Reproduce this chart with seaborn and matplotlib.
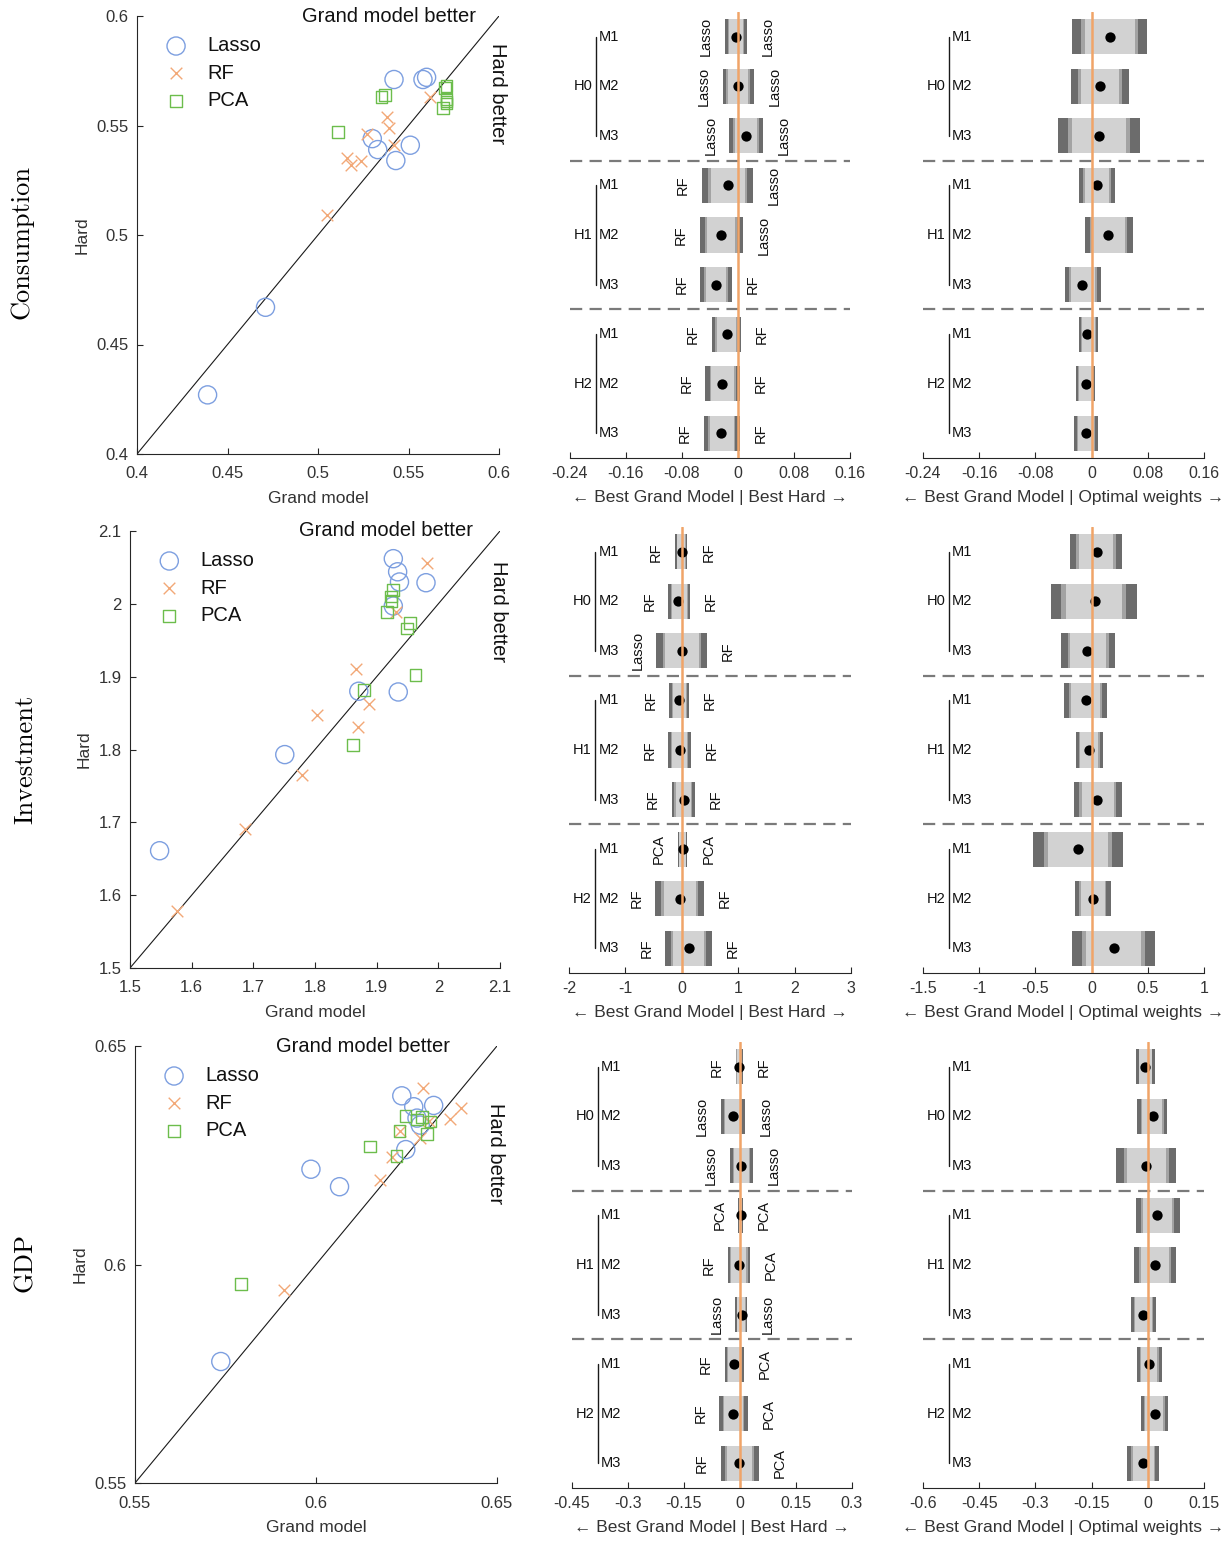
import numpy as np
import pandas as pd
import matplotlib
matplotlib.use("Agg")
import matplotlib.pyplot as plt
from matplotlib.ticker import FormatStrFormatter
import seaborn as sns

# ---------------- data ----------------
row_titles = ["Consumption", "Investment", "GDP"]
methods = ["Lasso", "RF", "PCA"]
horizons = ["H0", "H1", "H2"]
models = ["M1", "M2", "M3"]

# scatter: Grand model (x) vs Hard (y)
cons_lasso_x = [0.439, 0.471, 0.530, 0.533, 0.543, 0.551, 0.542, 0.558, 0.560]
cons_lasso_y = [0.427, 0.467, 0.544, 0.539, 0.534, 0.541, 0.571, 0.571, 0.572]
cons_rf_x = [0.505, 0.516, 0.518, 0.524, 0.527, 0.538, 0.539, 0.542, 0.562]
cons_rf_y = [0.509, 0.535, 0.532, 0.534, 0.546, 0.554, 0.549, 0.541, 0.563]
cons_pca_x = [0.511, 0.535, 0.537, 0.571, 0.570, 0.571, 0.571, 0.569, 0.571]
cons_pca_y = [0.547, 0.563, 0.564, 0.568, 0.567, 0.561, 0.560, 0.558, 0.562]

inv_lasso_x = [1.548, 1.751, 1.871, 1.935, 1.927, 1.934, 1.937, 1.980, 1.927]
inv_lasso_y = [1.661, 1.793, 1.880, 1.879, 2.062, 2.044, 2.030, 2.029, 1.997]
inv_rf_x = [1.576, 1.687, 1.779, 1.804, 1.866, 1.870, 1.888, 1.931, 1.982]
inv_rf_y = [1.578, 1.691, 1.765, 1.847, 1.911, 1.831, 1.863, 1.989, 2.056]
inv_pca_x = [1.862, 1.879, 1.963, 1.917, 1.923, 1.924, 1.926, 1.949, 1.954]
inv_pca_y = [1.806, 1.882, 1.902, 1.989, 2.010, 2.004, 2.019, 1.966, 1.974]

gdp_lasso_x = [0.5737, 0.5986, 0.6065, 0.6237, 0.6270, 0.6325, 0.6248, 0.6279, 0.6288]
gdp_lasso_y = [0.5778, 0.6218, 0.6178, 0.6386, 0.6361, 0.6364, 0.6263, 0.6335, 0.6319]
gdp_rf_x = [0.5912, 0.6177, 0.6210, 0.6231, 0.6295, 0.6288, 0.6311, 0.6371, 0.6401]
gdp_rf_y = [0.5942, 0.6194, 0.6247, 0.6306, 0.6405, 0.6289, 0.6329, 0.6332, 0.6359]
gdp_pca_x = [0.5792, 0.6150, 0.6222, 0.6231, 0.6247, 0.6279, 0.6293, 0.6316, 0.6306]
gdp_pca_y = [0.5956, 0.6270, 0.6248, 0.6306, 0.6340, 0.6332, 0.6337, 0.6327, 0.6299]

# interval panels, rows H0M1..H2M3 : lower, upper, point estimate
cons_best_lo = [-0.0185, -0.0218, -0.0123, -0.0517, -0.0550, -0.0536, -0.0375, -0.0465, -0.0489]
cons_best_hi = [0.0128, 0.0223, 0.0351, 0.0218, 0.0066, -0.0090, 0.0047, 0.0033, 0.0024]
cons_best_pt = [-0.0028, 0.0005, 0.0114, -0.0147, -0.0242, -0.0313, -0.0161, -0.0228, -0.0242]
cons_best_left = ["Lasso", "Lasso", "Lasso", "RF", "RF", "RF", "RF", "RF", "RF"]
cons_best_right = ["Lasso", "Lasso", "Lasso", "Lasso", "Lasso", "RF", "RF", "RF", "RF"]

cons_opt_lo = [-0.0274, -0.0288, -0.0478, -0.0184, -0.0099, -0.0383, -0.0184, -0.0227, -0.0256]
cons_opt_hi = [0.0792, 0.0528, 0.0684, 0.0338, 0.0589, 0.0139, 0.0096, 0.0053, 0.0096]
cons_opt_pt = [0.0257, 0.0115, 0.0101, 0.0077, 0.0234, -0.0132, -0.0061, -0.0080, -0.0085]

inv_best_lo = [-0.12, -0.24, -0.45, -0.22, -0.24, -0.18, -0.07, -0.47, -0.29]
inv_best_hi = [0.10, 0.15, 0.45, 0.13, 0.16, 0.23, 0.10, 0.39, 0.53]
inv_best_pt = [0.01, -0.06, 0.01, -0.05, -0.03, 0.04, 0.02, -0.04, 0.13]
inv_best_left = ["RF", "RF", "Lasso", "RF", "RF", "RF", "PCA", "RF", "RF"]
inv_best_right = ["RF", "RF", "RF", "RF", "RF", "RF", "PCA", "RF", "RF"]

inv_opt_lo = [-0.19, -0.36, -0.27, -0.25, -0.14, -0.16, -0.52, -0.15, -0.17]
inv_opt_hi = [0.27, 0.40, 0.21, 0.14, 0.10, 0.27, 0.28, 0.17, 0.56]
inv_opt_pt = [0.05, 0.03, -0.04, -0.05, -0.02, 0.05, -0.12, 0.01, 0.20]

gdp_best_lo = [-0.0118, -0.0510, -0.0269, -0.0046, -0.0331, -0.0126, -0.0403, -0.0554, -0.0518]
gdp_best_hi = [0.0069, 0.0132, 0.0337, 0.0069, 0.0275, 0.0185, 0.0105, 0.0203, 0.0497]
gdp_best_pt = [-0.0029, -0.0198, 0.0034, 0.0016, -0.0037, 0.0052, -0.0153, -0.0198, -0.0020]
gdp_best_left = ["RF", "Lasso", "Lasso", "PCA", "RF", "Lasso", "RF", "RF", "RF"]
gdp_best_right = ["RF", "Lasso", "Lasso", "PCA", "PCA", "Lasso", "PCA", "PCA", "PCA"]

gdp_opt_lo = [-0.0306, -0.0279, -0.0840, -0.0324, -0.0369, -0.0440, -0.0298, -0.0191, -0.0546]
gdp_opt_hi = [0.0183, 0.0521, 0.0762, 0.0850, 0.0743, 0.0210, 0.0370, 0.0539, 0.0299]
gdp_opt_pt = [-0.0084, 0.0139, -0.0039, 0.0254, 0.0201, -0.0128, 0.0041, 0.0183, -0.0128]

scatter_lims = [(0.4, 0.6), (1.5, 2.1), (0.55, 0.65)]
scatter_ticks = [np.arange(0.4, 0.61, 0.05), np.arange(1.5, 2.11, 0.1), [0.55, 0.6, 0.65]]
best_ticks = [[-0.24, -0.16, -0.08, 0, 0.08, 0.16], [-2, -1, 0, 1, 2, 3],
              [-0.45, -0.3, -0.15, 0, 0.15, 0.3]]
opt_ticks = [[-0.24, -0.16, -0.08, 0, 0.08, 0.16], [-1.5, -1, -0.5, 0, 0.5, 1],
             [-0.6, -0.45, -0.3, -0.15, 0, 0.15]]

# ---------------- style ----------------
sns.set_style("ticks")
plt.rcParams["font.family"] = ["Liberation Sans", "DejaVu Sans"]
plt.rcParams["axes.unicode_minus"] = False
plt.rcParams["xtick.direction"] = "in"
plt.rcParams["ytick.direction"] = "in"

TXT = "#333333"
AX = "#262626"
colors = {"Lasso": "#7d9fe0", "RF": "#f2a877", "PCA": "#6cbd4c"}
markers = {"Lasso": "o", "RF": "x", "PCA": "s"}
sizes = {"Lasso": 170, "RF": 70, "PCA": 70}

W, H = 1231, 1542
fig = plt.figure(figsize=(W / 100, H / 100), dpi=100)


def box(l, r, t, b):
    return [l / W, 1 - b / H, (r - l) / W, (b - t) / H]


scatter_boxes = [box(137, 499, 16, 454), box(130, 500, 531, 968), box(135, 497, 1046, 1483)]
best_boxes = [box(570, 850, 12, 458), box(569, 851, 527, 973), box(572, 852, 1042, 1488)]
opt_boxes = [box(923, 1204, 12, 458), box(923, 1204, 527, 973), box(923, 1204, 1042, 1488)]
title_pos = [(22, 242), (25, 759), (25, 1263)]
gmb_x = [0.937, 0.927, 0.87]
hb_y = [0.824, 0.815, 0.753]

scatter_data = [
    [(cons_lasso_x, cons_lasso_y), (cons_rf_x, cons_rf_y), (cons_pca_x, cons_pca_y)],
    [(inv_lasso_x, inv_lasso_y), (inv_rf_x, inv_rf_y), (inv_pca_x, inv_pca_y)],
    [(gdp_lasso_x, gdp_lasso_y), (gdp_rf_x, gdp_rf_y), (gdp_pca_x, gdp_pca_y)],
]
best_data = [
    (cons_best_lo, cons_best_hi, cons_best_pt, cons_best_left, cons_best_right),
    (inv_best_lo, inv_best_hi, inv_best_pt, inv_best_left, inv_best_right),
    (gdp_best_lo, gdp_best_hi, gdp_best_pt, gdp_best_left, gdp_best_right),
]
opt_data = [
    (cons_opt_lo, cons_opt_hi, cons_opt_pt, None, None),
    (inv_opt_lo, inv_opt_hi, inv_opt_pt, None, None),
    (gdp_opt_lo, gdp_opt_hi, gdp_opt_pt, None, None),
]


def scatter_panel(ax, pts, lims, ticks, gx, hy):
    for m, (xs, ys) in zip(methods, pts):
        df = pd.DataFrame({"grand": xs, "hard": ys})
        if markers[m] == "x":
            sns.scatterplot(data=df, x="grand", y="hard", marker="x", color=colors[m],
                            s=sizes[m], linewidth=1.0, label=m, ax=ax, zorder=3)
        else:
            sns.scatterplot(data=df, x="grand", y="hard", marker=markers[m], color=colors[m],
                            facecolor="none", edgecolor=colors[m], s=sizes[m],
                            linewidth=1.0, label=m, ax=ax, zorder=3)
    ax.plot(lims, lims, color="#1a1a1a", lw=0.8, zorder=2)
    ax.set_xlim(lims)
    ax.set_ylim(lims)
    ax.set_xticks(ticks)
    ax.set_yticks(ticks)
    ax.xaxis.set_major_formatter(FormatStrFormatter("%g"))
    ax.yaxis.set_major_formatter(FormatStrFormatter("%g"))
    ax.tick_params(labelsize=12, colors=AX, labelcolor=TXT, length=4, width=0.8)
    ax.tick_params(axis="x", pad=9)
    ax.tick_params(axis="y", pad=6)
    for s in ["top", "right"]:
        ax.spines[s].set_visible(False)
    for s in ["left", "bottom"]:
        ax.spines[s].set_color(AX)
        ax.spines[s].set_linewidth(0.8)
    ax.set_xlabel("Grand model", fontsize=12.5, color=TXT, labelpad=7)
    ax.set_ylabel("Hard", fontsize=12.5, color=TXT, labelpad=5)
    ax.text(gx, 1.0, "Grand model better", transform=ax.transAxes, ha="right",
            va="center", fontsize=14.5, color="#111111")
    ax.text(0.995, hy, "Hard better", transform=ax.transAxes, ha="center",
            va="center", rotation=-90, fontsize=14.5, color="#111111")
    leg = ax.legend(loc="upper left", bbox_to_anchor=(0.03, 0.972), frameon=False,
                    fontsize=14.5, handletextpad=0.55, labelspacing=0.42,
                    borderaxespad=0, handlelength=2.0)
    for t in leg.get_texts():
        t.set_color("#111111")


def interval_panel(ax, lo, hi, pt, left_lab, right_lab, ticks, xlabel):
    lo = np.asarray(lo)
    hi = np.asarray(hi)
    rows = np.arange(1, 10)
    w = hi - lo
    bh = 0.71
    kw = dict(height=bh, edgecolor="none", linewidth=0, zorder=1)
    ax.barh(rows, w, left=lo, color="#6c6c6c", **kw)
    ax.barh(rows, w * 0.76, left=lo + w * 0.12, color="#a3a3a3", **kw)
    ax.barh(rows, w * 0.66, left=lo + w * 0.17, color="#d2d2d2", **kw)
    sns.scatterplot(x=pt, y=rows, color="black", s=55, edgecolor="black",
                    linewidth=0, ax=ax, zorder=4, legend=False)
    ax.axvline(0, color="#f0a468", lw=1.8, zorder=5)
    for yy in [3.5, 6.5]:
        ax.axhline(yy, color="#7a7a7a", lw=1.6, ls=(0, (5.5, 3.3)), zorder=2)
    if left_lab is not None:
        for r, a, b, la, ra in zip(rows, lo, hi, left_lab, right_lab):
            ax.annotate(la, (a, r), xytext=(-8.5, 0), textcoords="offset points",
                        rotation=90, ha="right", va="center", fontsize=10.5, color="#111111")
            ax.annotate(ra, (b, r), xytext=(10, 0), textcoords="offset points",
                        rotation=90, ha="left", va="center", fontsize=10.5, color="#111111")
    # group brackets
    tr = ax.get_yaxis_transform()
    for g, h in enumerate(horizons):
        r0 = 3 * g + 1
        ax.plot([0.093, 0.093], [r0, r0 + 2], transform=tr, color="#1a1a1a", lw=1.0,
                clip_on=False)
        ax.text(0.081, r0 + 1, h, transform=tr, ha="right", va="center",
                fontsize=10.5, color="#111111")
        for k, m in enumerate(models):
            ax.text(0.104, r0 + k, m, transform=tr, ha="left", va="center",
                    fontsize=10.5, color="#111111")
    ax.set_ylim(9.5, 0.5)
    ax.set_xlim(ticks[0], ticks[-1])
    ax.set_xticks(ticks)
    ax.xaxis.set_major_formatter(FormatStrFormatter("%g"))
    ax.set_yticks([])
    ax.set_ylabel("")
    for s in ["top", "right", "left"]:
        ax.spines[s].set_visible(False)
    ax.spines["bottom"].set_color(AX)
    ax.spines["bottom"].set_linewidth(0.8)
    ax.tick_params(axis="x", labelsize=11.5, colors=AX, labelcolor=TXT, length=4,
                   width=0.8, pad=6)
    ax.set_xlabel(xlabel, fontsize=12.5, color=TXT, labelpad=6)


for i in range(3):
    ax_s = fig.add_axes(scatter_boxes[i])
    scatter_panel(ax_s, scatter_data[i], scatter_lims[i], scatter_ticks[i], gmb_x[i], hb_y[i])

    ax_b = fig.add_axes(best_boxes[i])
    interval_panel(ax_b, *best_data[i], best_ticks[i],
                   "\u2190 Best Grand Model | Best Hard \u2192")

    ax_o = fig.add_axes(opt_boxes[i])
    interval_panel(ax_o, *opt_data[i], opt_ticks[i],
                   "\u2190 Best Grand Model | Optimal weights \u2192")

    tx, ty = title_pos[i]
    fig.text(tx / W, 1 - ty / H, row_titles[i], rotation=90, ha="center", va="center",
             fontsize=19, family="cmr10", color="black")

fig.savefig("out.png", dpi=100)
